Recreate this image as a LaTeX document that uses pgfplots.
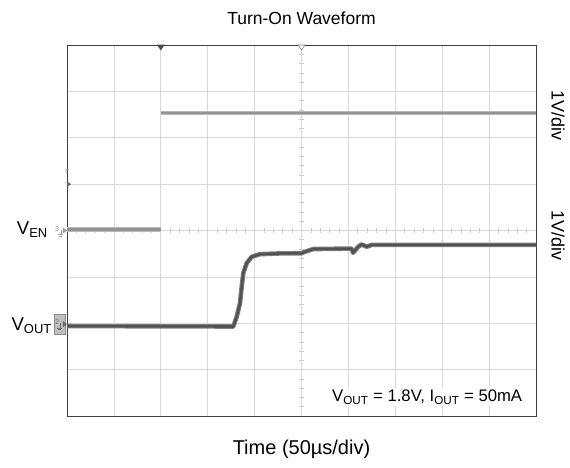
\documentclass[border=0pt]{standalone}
\usepackage{pgfplots}
\pgfplotsset{compat=1.18}
\usepackage{fontspec}
\setmainfont{Liberation Sans}
\newcommand\lab{\fontsize{17.5}{20}\selectfont}
\begin{document}
\begin{tikzpicture}
\useasboundingbox (-67pt,-51pt) rectangle (503pt,416pt);
\begin{axis}[
 at={(0,0)}, anchor=south west, scale only axis, width=469pt, height=371pt,
 xmin=0,xmax=10,ymin=0,ymax=8,
 xtick={0,...,10}, ytick={0,...,8}, xticklabels={}, yticklabels={},
 major tick length=0pt, grid=major, grid style={black!15, line width=0.7pt},
 axis line style={black!75,line width=0.8pt},
 clip=false,
 unbounded coords=jump,
]
% center-line minor ticks
\pgfplotsinvokeforeach{0.2,0.4,0.6,0.8,1.2,1.4,1.6,1.8,2.2,2.4,2.6,2.8,3.2,3.4,3.6,3.8,4.2,4.4,4.6,4.8,5.2,5.4,5.6,5.8,6.2,6.4,6.6,6.8,7.2,7.4,7.6,7.8,8.2,8.4,8.6,8.8,9.2,9.4,9.6,9.8}{
  \draw[black!20, line width=0.6pt] (axis cs:#1,3.94) -- (axis cs:#1,4.06);
}
\pgfplotsinvokeforeach{0.2,0.4,0.6,0.8,1.2,1.4,1.6,1.8,2.2,2.4,2.6,2.8,3.2,3.4,3.6,3.8,4.2,4.4,4.6,4.8,5.2,5.4,5.6,5.8,6.2,6.4,6.6,6.8,7.2,7.4,7.6,7.8}{
  \draw[black!20, line width=0.6pt] (axis cs:4.94,#1) -- (axis cs:5.06,#1);
}
% V_EN trace
\addplot[color=black!28, line width=4.5pt, forget plot] coordinates {(0,4.02) (2,4.02) (2,nan) (2,6.53) (10,6.53)};
\addplot[color=black!42, line width=2.2pt, forget plot] coordinates {(0,4.02) (2,4.02) (2,nan) (2,6.53) (10,6.53)};
% V_OUT trace
\addplot[color=black!50, line width=4.6pt, line join=round, forget plot] coordinates {
(0,1.94) (3.546,1.93) (3.618,2.14) (3.689,2.435) (3.725,2.787) (3.759,3.082) (3.832,3.297) (3.938,3.433) (4.115,3.49) (4.54,3.506) (5.0,3.51) (5.07,3.54) (5.25,3.60) (6.07,3.61) (6.10,3.52) (6.21,3.65) (6.28,3.70) (6.39,3.65) (6.50,3.69) (10,3.69)};
\addplot[color=black!68, line width=2.6pt, line join=round, forget plot] coordinates {
(0,1.94) (3.546,1.93) (3.618,2.14) (3.689,2.435) (3.725,2.787) (3.759,3.082) (3.832,3.297) (3.938,3.433) (4.115,3.49) (4.54,3.506) (5.0,3.51) (5.07,3.54) (5.25,3.60) (6.07,3.61) (6.10,3.52) (6.21,3.65) (6.28,3.70) (6.39,3.65) (6.50,3.69) (10,3.69)};
% top markers
\fill[black!70] (axis cs:2,8) ++(-4pt,0.5pt) -- ++(8pt,0) -- ++(-4pt,-6pt) -- cycle;
\draw[black!50, line width=0.6pt, fill=white] (axis cs:5,8) ++(-3.5pt,0pt) -- ++(7pt,0) -- ++(-3.5pt,-5pt) -- cycle;
% trigger level marker
\fill[black!60] (axis cs:0,5) ++(0,3pt) -- ++(4pt,-3pt) -- ++(-4pt,-3pt) -- cycle;
\node[black!40, font=\fontsize{7}{7}\selectfont] at (axis cs:0,5.27) {T};
% channel 3 marker
\fill[black!40] (axis cs:0,4.0) ++(-4pt,3pt) -- ++(4pt,-3pt) -- ++(-4pt,-3pt) -- cycle;
\node[black!40, font=\fontsize{7}{7}\selectfont] at (axis cs:0,4.02) [xshift=-10pt] {3};
\draw[black!40, line width=0.5pt] (axis cs:0,4) ++(-6pt,1pt) -- ++(0,-5pt) ++(-2.5pt,0) -- ++(5pt,0) ++(-4pt,-1.5pt) -- ++(3pt,0);
% channel 2 marker
\draw[black!45, fill=black!25, line width=0.5pt] (axis cs:0,1.98) ++(-13pt,-10pt) rectangle ++(11pt,20pt);
\fill[black!60] (axis cs:0,1.98) ++(-4pt,3pt) -- ++(4pt,-3pt) -- ++(-4pt,-3pt) -- cycle;
\node[black!55, font=\fontsize{7}{7}\selectfont] at (axis cs:0,2.02) [xshift=-10pt] {2};
\draw[black!55, line width=0.5pt] (axis cs:0,1.98) ++(-7pt,1pt) -- ++(0,-5pt) ++(-2.5pt,0) -- ++(5pt,0) ++(-4pt,-1.5pt) -- ++(3pt,0);
% labels
\node[anchor=east, inner sep=0pt] at (axis cs:0,4.02) [xshift=-19pt] {\fontsize{18.5}{20}\selectfont V\textsubscript{EN}};
\node[anchor=east, inner sep=0pt] at (axis cs:0,1.94) [xshift=-15pt] {\fontsize{18.5}{20}\selectfont V\textsubscript{OUT}};
\node[fill=white, inner sep=2pt] at (axis cs:7.68,0.41) {\fontsize{16.7}{18}\selectfont V\textsubscript{OUT} = 1.8V, I\textsubscript{OUT} = 50mA};
\node[xshift=22pt, rotate=-90] at (rel axis cs:1,0.809) {\fontsize{18}{20}\selectfont 1V/div};
\node[xshift=22pt, rotate=-90] at (rel axis cs:1,0.4875) {\fontsize{18}{20}\selectfont 1V/div};
\node at (rel axis cs:0.5,1) [yshift=27pt] {\lab Turn-On Waveform};
\node at (rel axis cs:0.5,0) [yshift=-33pt] {\fontsize{20}{22}\selectfont Time (50µs/div)};
\end{axis}
\end{tikzpicture}
\end{document}
